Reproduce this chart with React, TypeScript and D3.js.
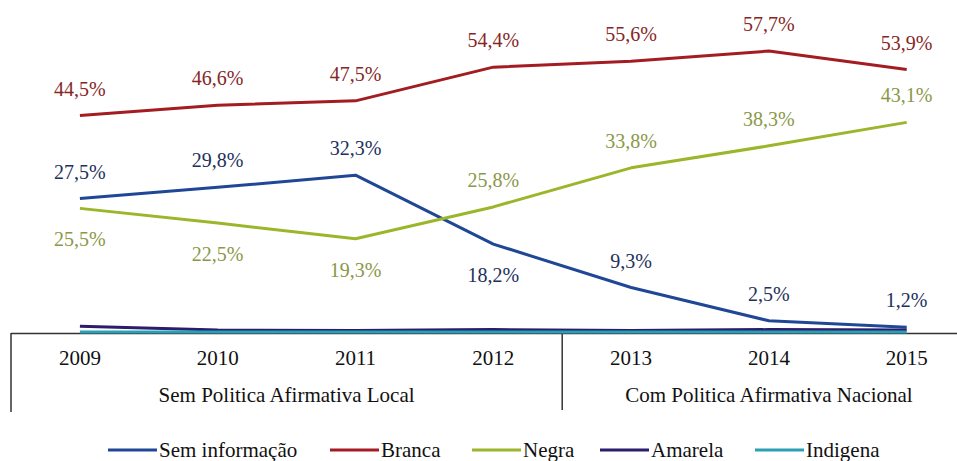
import React from "react";
import * as d3 from "d3";

const years = ["2009", "2010", "2011", "2012", "2013", "2014", "2015"];
const semInformacao = [27.5, 29.8, 32.3, 18.2, 9.3, 2.5, 1.2];
const branca = [44.5, 46.6, 47.5, 54.4, 55.6, 57.7, 53.9];
const negra = [25.5, 22.5, 19.3, 25.8, 33.8, 38.3, 43.1];
const amarela = [1.4, 0.6, 0.5, 0.7, 0.5, 0.7, 0.6];
const indigena = [0.2, 0.2, 0.2, 0.2, 0.2, 0.2, 0.2];
const groupLabels = ["Sem Politica Afirmativa Local", "Com Politica Afirmativa Nacional"];
const groupYears = [["2009", "2012"], ["2013", "2015"]];

// label placement: 1 = above, -1 = below, 0 = none
const semInfoPos = [1, 1, 1, -1, 1, 1, 1];
const brancaPos = [1, 1, 1, 1, 1, 1, 1];
const negraPos = [-1, -1, -1, 1, 1, 1, 1];

const W = 957;
const H = 461;
const FONT = '"Liberation Serif", Tinos, "DejaVu Serif", serif';
const fs = (size: number) => ({ fontFamily: FONT, fontSize: size + "px" });

type Series = {
  name: string;
  values: number[];
  color: string;
  labelColor?: string;
  pos?: number[];
};

const series: Series[] = [
  { name: "Sem informação", values: semInformacao, color: "#1f4796", labelColor: "#22305c", pos: semInfoPos },
  { name: "Branca", values: branca, color: "#a31c22", labelColor: "#862626", pos: brancaPos },
  { name: "Negra", values: negra, color: "#9bb62a", labelColor: "#8a9848", pos: negraPos },
  { name: "Amarela", values: amarela, color: "#2b1c6c" },
  { name: "Indigena", values: indigena, color: "#2b9fb6" },
];

const legendX = [108, 330, 472, 600, 755];

export default function App() {
  const x = d3.scaleBand<string>().domain(years).range([11, 11 + 7 * 137.8]);
  const cx = (yr: string) => (x(yr) as number) + x.bandwidth() / 2;
  const y = d3.scaleLinear().domain([0, 60]).range([333, 333 - 60 * 4.887]);
  const line = d3
    .line<number>()
    .x((_, i) => cx(years[i]))
    .y((v) => y(v));
  const fmt = (v: number) => v.toFixed(1).replace(".", ",") + "%";
  const dividerX = ((x("2012") as number) + x.bandwidth() + (x("2013") as number)) / 2;

  return (
    <svg
      width={W}
      height={H}
      style={{ position: "absolute", left: 0, top: 0, background: "#fff", fontFamily: FONT }}
    >
      <rect x={0} y={0} width={W} height={H} fill="#fff" />
      {/* axis lines */}
      <line x1={11} x2={W} y1={333.5} y2={333.5} stroke="#333" strokeWidth={1.5} />
      <line x1={11} x2={11} y1={333} y2={412} stroke="#333" strokeWidth={1.5} />
      <line x1={dividerX} x2={dividerX} y1={333} y2={410} stroke="#333" strokeWidth={1.5} />

      {/* lines */}
      {series.map((s) => (
        <path
          key={s.name}
          d={line(s.values) as string}
          fill="none"
          stroke={s.color}
          strokeWidth={3}
          strokeLinejoin="round"
        />
      ))}

      {/* data labels */}
      {series.map((s) =>
        s.pos
          ? s.values.map((v, i) =>
              s.pos![i] === 0 ? null : (
                <text
                  key={s.name + i}
                  x={cx(years[i])}
                  y={y(v) + (s.pos![i] > 0 ? -20 : 38)}
                  textAnchor="middle"
                  style={fs(20)}
                  fill={s.labelColor}
                >
                  {fmt(v)}
                </text>
              )
            )
          : null
      )}

      {/* year labels */}
      {years.map((yr) => (
        <text key={yr} x={cx(yr)} y={365} textAnchor="middle" style={fs(21)} fill="#111">
          {yr}
        </text>
      ))}

      {/* group labels */}
      {groupLabels.map((g, i) => (
        <text
          key={g}
          x={(cx(groupYears[i][0]) + cx(groupYears[i][1])) / 2}
          y={402}
          textAnchor="middle"
          style={fs(21)}
          fill="#111"
        >
          {g}
        </text>
      ))}

      {/* legend */}
      {series.map((s, i) => (
        <g key={"lg" + s.name}>
          <line
            x1={legendX[i]}
            x2={legendX[i] + 49}
            y1={450}
            y2={450}
            stroke={s.color}
            strokeWidth={3}
          />
          <text x={legendX[i] + 51} y={457} style={fs(21)} fill="#111">
            {s.name}
          </text>
        </g>
      ))}
    </svg>
  );
}
